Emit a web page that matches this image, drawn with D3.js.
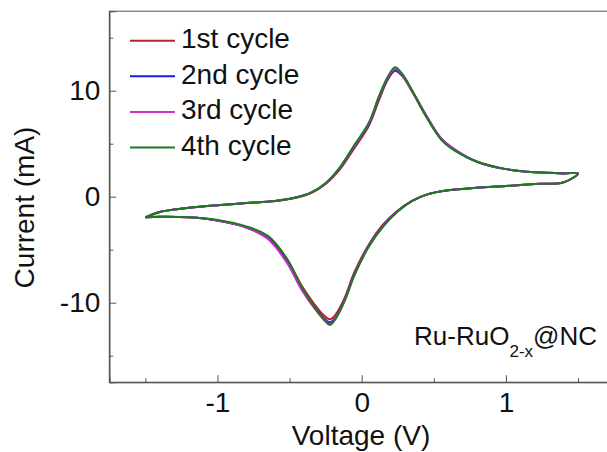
<!DOCTYPE html>
<html>
<head>
<meta charset="utf-8">
<script src="https://cdn.jsdelivr.net/npm/d3@7"></script>
<style>
  html, body { margin: 0; padding: 0; background: #fff; }
  svg { display: block; font-family: "Liberation Sans", Arial, sans-serif; }
</style>
</head>
<body>
<svg id="chart" width="607" height="452"></svg>
<script>
// ---- data ----
const voltage = [-1.5,-1.4,-1.3,-1.2,-1.0,-0.8,-0.6,-0.45,-0.35,-0.25,-0.15,-0.05,0.05,0.12,0.18,0.23,0.28,0.35,0.45,0.55,0.65,0.8,1.0,1.2,1.4,1.5,
                 1.4,1.2,1.0,0.8,0.6,0.45,0.35,0.25,0.15,0.05,-0.05,-0.12,-0.18,-0.22,-0.27,-0.33,-0.42,-0.52,-0.65,-0.8,-1.0,-1.2,-1.4,-1.5];
const cycle1 = [-1.95,-1.45,-1.2,-1.05,-0.8,-0.6,-0.4,-0.07,0.35,1.2,2.6,4.6,6.7,9.1,11.0,11.85,11.4,9.9,7.5,5.5,4.4,3.3,2.6,2.3,2.2,2.2,
                1.35,1.2,1.0,0.85,0.6,0.2,-0.4,-1.3,-2.6,-4.5,-7.1,-9.6,-11.1,-11.55,-11.1,-10.1,-8.3,-5.9,-3.9,-2.9,-2.25,-1.95,-1.9,-1.95];
const cycle2 = [-1.95,-1.45,-1.2,-1.05,-0.8,-0.6,-0.4,-0.06,0.38,1.25,2.7,4.75,6.85,9.3,11.15,11.95,11.5,10.0,7.6,5.5,4.4,3.3,2.6,2.3,2.2,2.2,
                1.35,1.2,1.0,0.85,0.6,0.2,-0.4,-1.35,-2.7,-4.6,-7.3,-9.8,-11.4,-11.85,-11.35,-10.4,-8.6,-6.1,-3.95,-2.9,-2.25,-1.95,-1.9,-1.95];
const cycle3 = [-1.95,-1.45,-1.2,-1.05,-0.8,-0.6,-0.4,-0.06,0.38,1.25,2.75,4.8,6.9,9.4,11.2,12.05,11.55,10.0,7.6,5.5,4.4,3.3,2.6,2.3,2.2,2.2,
                1.35,1.2,1.0,0.85,0.6,0.2,-0.4,-1.35,-2.75,-4.65,-7.35,-9.85,-11.45,-12.0,-11.45,-10.5,-8.7,-6.2,-4.0,-2.9,-2.25,-1.95,-1.9,-1.95];
const cycle4 = [-1.95,-1.45,-1.2,-1.05,-0.8,-0.6,-0.4,-0.05,0.4,1.3,2.8,4.9,7.0,9.5,11.3,12.2,11.6,10.0,7.5,5.4,4.3,3.3,2.6,2.3,2.2,2.2,
                1.35,1.2,1.0,0.85,0.6,0.2,-0.4,-1.4,-2.8,-4.7,-7.4,-9.9,-11.5,-12.1,-11.5,-10.4,-8.4,-5.8,-3.7,-2.8,-2.2,-1.95,-1.9,-1.95];
const seriesNames = ["1st cycle", "2nd cycle", "3rd cycle", "4th cycle"];
const seriesColors = ["#b3262a", "#1a1ae0", "#cc2ecc", "#1f7a1f"];
const xMajorTicks = [-1, 0, 1];
const xMinorTicks = [-1.5, -0.5, 0.5, 1.5];
const yMajorTicks = [-10, 0, 10];
const yMinorTicks = [-15, -5, 5, 15];
const xTitle = "Voltage (V)";
const yTitle = "Current (mA)";

// ---- chart ----
const svg = d3.select("#chart");
const mLeft = 109.3, mRight = 614.1, mTop = 11.2, mBottom = 382.2;
const x = d3.scaleLinear().domain([-1.75, 1.75]).range([mLeft, mRight]);
const y = d3.scaleLinear().domain([-17.5, 17.5]).range([mBottom, mTop]);
const axisColor = "#555";
const fontSize = 28;

const series = [cycle1, cycle2, cycle3, cycle4].map((vals, i) => ({
  name: seriesNames[i], color: seriesColors[i],
  points: voltage.map((v, j) => [v, vals[j]])
}));

const line = d3.line().x(d => x(d[0])).y(d => y(d[1])).curve(d3.curveCatmullRom.alpha(0.5));

svg.append("g").selectAll("path").data(series).join("path")
  .attr("d", d => line(d.points))
  .attr("fill", "none")
  .attr("stroke", d => d.color)
  .attr("stroke-width", 2)
  .attr("stroke-linejoin", "round");

// frame (top & right)
svg.append("rect").attr("x", mLeft).attr("y", mTop).attr("width", mRight - mLeft).attr("height", mBottom - mTop)
  .attr("fill", "none").attr("stroke", axisColor).attr("stroke-width", 1);

function styleAxis(g) {
  g.selectAll(".domain").attr("stroke", axisColor).attr("stroke-width", 1);
  g.selectAll(".tick line").attr("stroke", axisColor).attr("stroke-width", 1);
  g.selectAll("text").attr("font-size", fontSize).attr("fill", "#111")
    .attr("font-family", "'Liberation Sans', Arial, sans-serif");
}

svg.append("g").attr("transform", `translate(0,${mBottom})`)
  .call(d3.axisBottom(x).tickValues(xMajorTicks).tickSize(-7).tickPadding(10).tickFormat(d3.format("d")))
  .call(styleAxis);
svg.append("g").attr("transform", `translate(0,${mBottom})`)
  .call(d3.axisBottom(x).tickValues(xMinorTicks).tickSize(-4).tickFormat(""))
  .call(styleAxis);
svg.append("g").attr("transform", `translate(${mLeft},0)`)
  .call(d3.axisLeft(y).tickValues(yMajorTicks).tickSize(-7).tickPadding(9).tickFormat(d3.format("d")))
  .call(styleAxis);
svg.append("g").attr("transform", `translate(${mLeft},0)`)
  .call(d3.axisLeft(y).tickValues(yMinorTicks).tickSize(-4).tickFormat(""))
  .call(styleAxis);
svg.selectAll(".tick text").text(function() { return d3.select(this).text().replace("−", "-"); });

// axis titles
svg.append("text").attr("x", 361).attr("y", 445).attr("text-anchor", "middle")
  .attr("font-size", fontSize).attr("fill", "#111").text(xTitle);
svg.append("text").attr("transform", "translate(34,207.5) rotate(-90)").attr("text-anchor", "middle")
  .attr("font-size", fontSize).attr("fill", "#111").text(yTitle);

// legend
const legend = svg.append("g");
series.forEach((s, i) => {
  const ly = 40.7 + i * 35.6;
  legend.append("line").attr("x1", 130).attr("x2", 175).attr("y1", ly).attr("y2", ly)
    .attr("stroke", s.color).attr("stroke-width", 2);
  legend.append("text").attr("x", 181).attr("y", ly + 7.5).attr("font-size", fontSize)
    .attr("fill", "#111").text(s.name);
});

// annotation
const ann = svg.append("text").attr("x", 597).attr("y", 345).attr("text-anchor", "end")
  .attr("font-size", 26).attr("fill", "#111");
ann.append("tspan").text("Ru-RuO");
ann.append("tspan").attr("font-size", 17).attr("dy", 12).text("2-x");
ann.append("tspan").attr("dy", -12).text("@NC");
</script>
</body>
</html>
